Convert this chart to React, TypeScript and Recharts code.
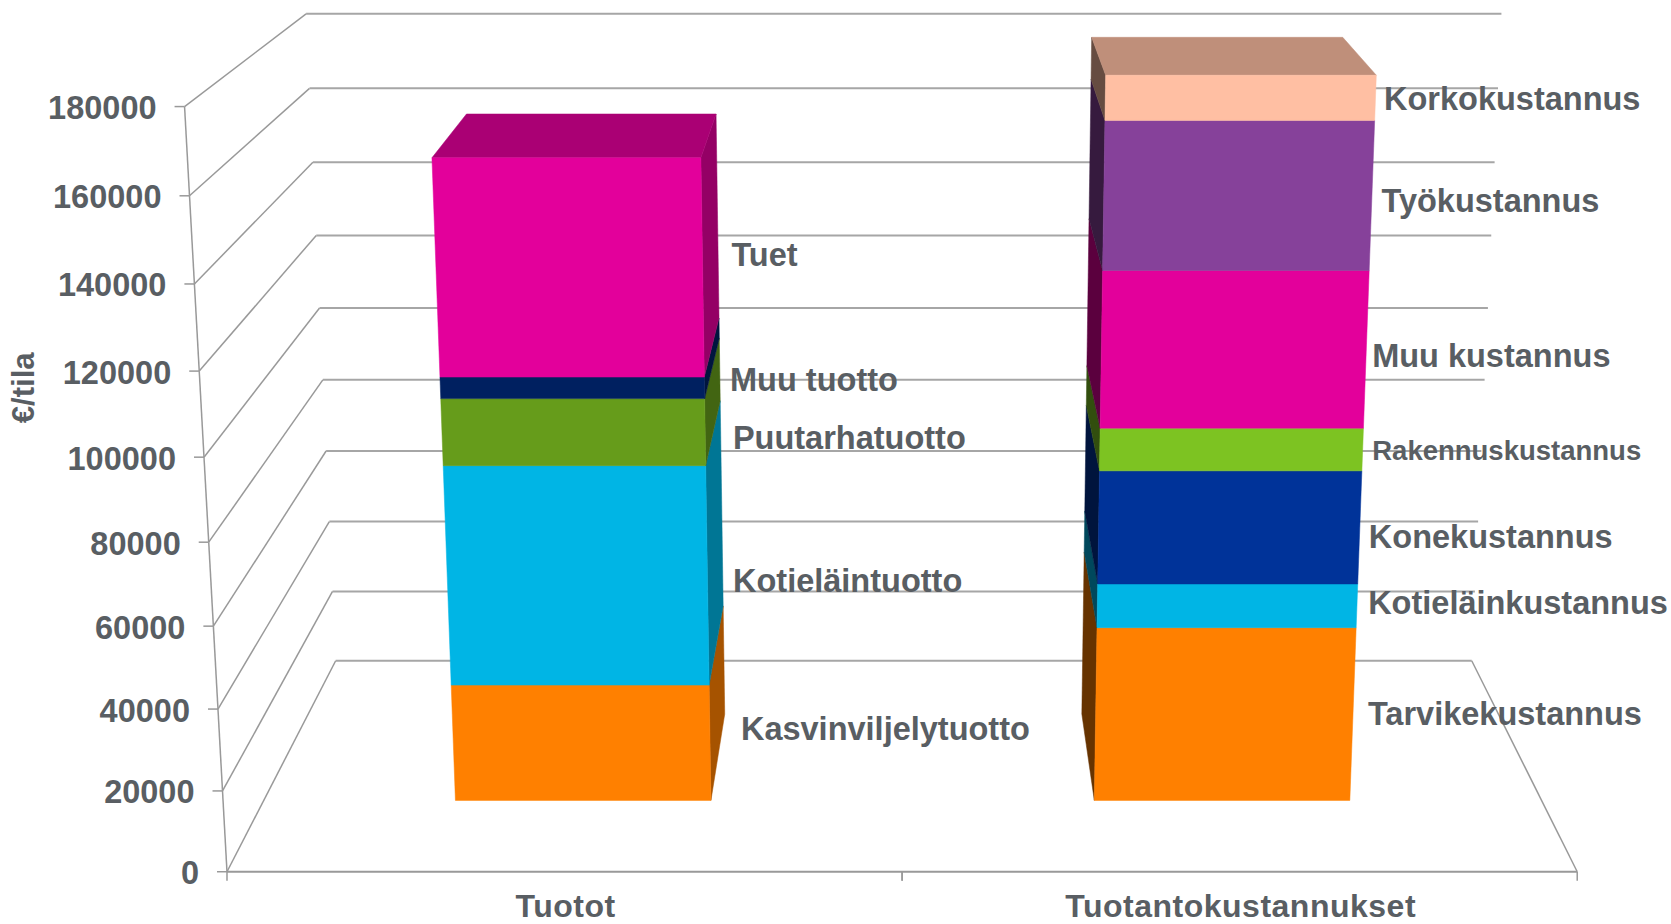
import React from 'react';
import { BarChart, Bar, XAxis, YAxis, CartesianGrid } from 'recharts';

const categories = ['Tuotot', 'Tuotantokustannukset'];
const yTicks = [0, 20000, 40000, 60000, 80000, 100000, 120000, 140000, 160000, 180000];

const revenueNames = ['Kasvinviljelytuotto', 'Kotieläintuotto', 'Puutarhatuotto', 'Muu tuotto', 'Tuet'];
const revenueValues = [29900, 55500, 16600, 5300, 53100];
const revenueColors = ['#FF8000', '#00B5E5', '#669C1B', '#002060', '#E3009B'];

const costNames = ['Tarvikekustannus', 'Kotieläinkustannus', 'Konekustannus', 'Rakennuskustannus', 'Muu kustannus', 'Työkustannus', 'Korkokustannus'];
const costValues = [44600, 11100, 28400, 10600, 38600, 36000, 10700];
const costColors = ['#FF8000', '#00B5E5', '#003399', '#7DC322', '#E3009B', '#86419A', '#FFBFA3'];

// label offsets from the front-right edge of each segment
const revenueNudge = [[29, -13], [24, 4], [26, 5], [24, -7], [27, -12]];
const costNudge = [[14, -1], [10.5, -3], [8.5, 8.5], [9, 1], [5.5, 6], [9, 5], [8, 1]];

const TEXT = '#595E63';
const FONT = '"Liberation Sans", Arial, sans-serif';
const GRID = '#A6A6A6';
const AXIS = '#999999';

const S = 1671 / 1568;
const L = 213 * S, R = 1480 * S, T = 100 * S, B = 818 * S;
const DEPTH_FRONT = 0.338, DEPTH_BACK = 0.747;
const yMax = yTicks[yTicks.length - 1];

// Perspective projection of plot coordinates: u across, v up, d into the picture
function project(u: number, v: number, d: number): [number, number] {
  const y0 = 818 - 198 * d;
  const a = 678 - 96 * d;
  const b = 40 - 15 * d;
  const y = y0 - (a * v + b * v * v);
  const xL = 213 + 102 * d;
  const xR = 1480 - 99 * d;
  const x0 = xL + u * (xR - xL);
  const x = 847 + ((x0 - 847) * (12250 - y)) / (12250 - y0);
  return [x * S, y * S];
}
const toU = (px: number) => (px - L) / (R - L);
const toV = (py: number) => (B - py) / (B - T);
const pts = (list: [number, number][]) => list.map((p) => `${p[0].toFixed(2)},${p[1].toFixed(2)}`).join(' ');

function shade(hex: string, f: number) {
  const n = parseInt(hex.slice(1), 16);
  const c = [(n >> 16) & 255, (n >> 8) & 255, n & 255].map((x) => Math.round(x * f));
  return `rgb(${c[0]},${c[1]},${c[2]})`;
}

type PrismOpts = { name: string; color: string; isTop: boolean; nudge: number[]; fontSize: number };

function Prism(props: any, o: PrismOpts) {
  const { x, y, width, height } = props;
  if (!height || height <= 0) return <g />;
  const u1 = toU(x), u2 = toU(x + width);
  const v1 = toV(y + height), v2 = toV(y);
  const rightSide = (u1 + u2) / 2 < 0.5;
  const us = rightSide ? u2 : u1;
  const sideF = rightSide ? 0.65 : 0.4;
  const side: [number, number][] = [project(us, v1, DEPTH_FRONT), project(us, v2, DEPTH_FRONT), project(us, v2, DEPTH_BACK), project(us, v1, DEPTH_BACK)];
  const front: [number, number][] = [project(u1, v1, DEPTH_FRONT), project(u2, v1, DEPTH_FRONT), project(u2, v2, DEPTH_FRONT), project(u1, v2, DEPTH_FRONT)];
  const top: [number, number][] = [project(u1, v2, DEPTH_FRONT), project(u2, v2, DEPTH_FRONT), project(u2, v2, DEPTH_BACK), project(u1, v2, DEPTH_BACK)];
  const sideCol = shade(o.color, sideF);
  const topCol = shade(o.color, 0.75);
  const anchor = project(u2, (v1 + v2) / 2, DEPTH_FRONT);
  return (
    <g>
      <polygon points={pts(side)} fill={sideCol} stroke={sideCol} strokeWidth={0.5} />
      {o.isTop && <polygon points={pts(top)} fill={topCol} stroke={topCol} strokeWidth={0.5} />}
      <polygon points={pts(front)} fill={o.color} stroke={o.color} strokeWidth={0.5} />
      <text x={anchor[0] + o.nudge[0] * S} y={anchor[1] + o.nudge[1] * S} fill={TEXT} fontFamily={FONT} fontWeight={700} fontSize={o.fontSize} dominantBaseline="central">{o.name}</text>
    </g>
  );
}

function GridLine(p: any) {
  const v = toV(p.y1);
  const front = project(0, v, 0);
  const back = project(0, v, 1);
  const right = project(1, v, 1);
  const isFloor = Math.abs(v) < 1e-6;
  const below = project(0, Math.max(0, v - yTicks[1] / yMax), 0);
  return (
    <g key={p.key}>
      <polyline points={pts([front, back])} fill="none" stroke={AXIS} strokeWidth={1.5} />
      <polyline points={pts([back, right])} fill="none" stroke={GRID} strokeWidth={2} />
      {isFloor && <polyline points={pts([right, project(1, 0, 0)])} fill="none" stroke={AXIS} strokeWidth={1.5} />}
      {!isFloor && <polyline points={pts([front, below])} fill="none" stroke={AXIS} strokeWidth={1.5} />}
    </g>
  );
}

function YTick(p: any) {
  const v = toV(p.y);
  const [px, py] = project(0, v, 0);
  return (
    <g>
      <line x1={px - 10} x2={px} y1={py} y2={py} stroke={AXIS} strokeWidth={1.5} />
      <text x={px - 28} y={py + 1.5} textAnchor="end" dominantBaseline="central" fill={TEXT} fontFamily={FONT} fontWeight={700} fontSize={32.5}>{p.payload.value}</text>
    </g>
  );
}

function XTick(p: any) {
  const half = (R - L) / 4;
  return (
    <g>
      {[p.x - half, p.x + half].map((tx, i) => (
        <line key={i} x1={tx} x2={tx} y1={B} y2={B + 9} stroke={AXIS} strokeWidth={1.5} />
      ))}
      <text x={p.x + 1} y={B + 34} textAnchor="middle" dominantBaseline="central" fill={TEXT} fontFamily={FONT} fontWeight={700} fontSize={32} letterSpacing={0.5}>{p.payload.value}</text>
    </g>
  );
}

const data = categories.map((category, i) => {
  const row: Record<string, string | number> = { category };
  const names = i === 0 ? revenueNames : costNames;
  const values = i === 0 ? revenueValues : costValues;
  names.forEach((n, j) => { row[`${i}-${n}`] = values[j]; });
  return row;
});

function series(groupIndex: number, names: string[], colors: string[], nudges: number[][]) {
  return names.map((name, j) => (
    <Bar
      key={name}
      dataKey={`${groupIndex}-${name}`}
      name={name}
      stackId="a"
      isAnimationActive={false}
      fill={colors[j]}
      shape={(p: any) => Prism(p, { name, color: colors[j], isTop: j === names.length - 1, nudge: nudges[j], fontSize: name === 'Rakennuskustannus' ? 27.5 : 32.5 })}
    />
  ));
}

export default function App() {
  return (
    <div style={{ position: 'absolute', left: 0, top: 0, width: 1671, height: 924, background: '#fff' }}>
      <BarChart
        width={1671}
        height={924}
        data={data}
        barCategoryGap="30%"
        margin={{ left: 0, top: T, right: 1671 - R, bottom: 924 - B - 52 }}
      >
        <CartesianGrid horizontal={GridLine as any} vertical={false} />
        <XAxis dataKey="category" height={52} axisLine={{ stroke: AXIS, strokeWidth: 2 }} tickLine={false} tick={XTick as any} interval={0} />
        <YAxis
          width={L}
          domain={[0, yMax]}
          ticks={yTicks}
          interval={0}
          axisLine={false}
          tickLine={false}
          tick={YTick as any}
          label={{ value: '€/tila', angle: -90, position: 'insideLeft', dx: 18, dy: -66, fill: TEXT, fontFamily: FONT, fontWeight: 700, fontSize: 31 }}
        />
        {series(0, revenueNames, revenueColors, revenueNudge)}
        {series(1, costNames, costColors, costNudge)}
      </BarChart>
    </div>
  );
}
